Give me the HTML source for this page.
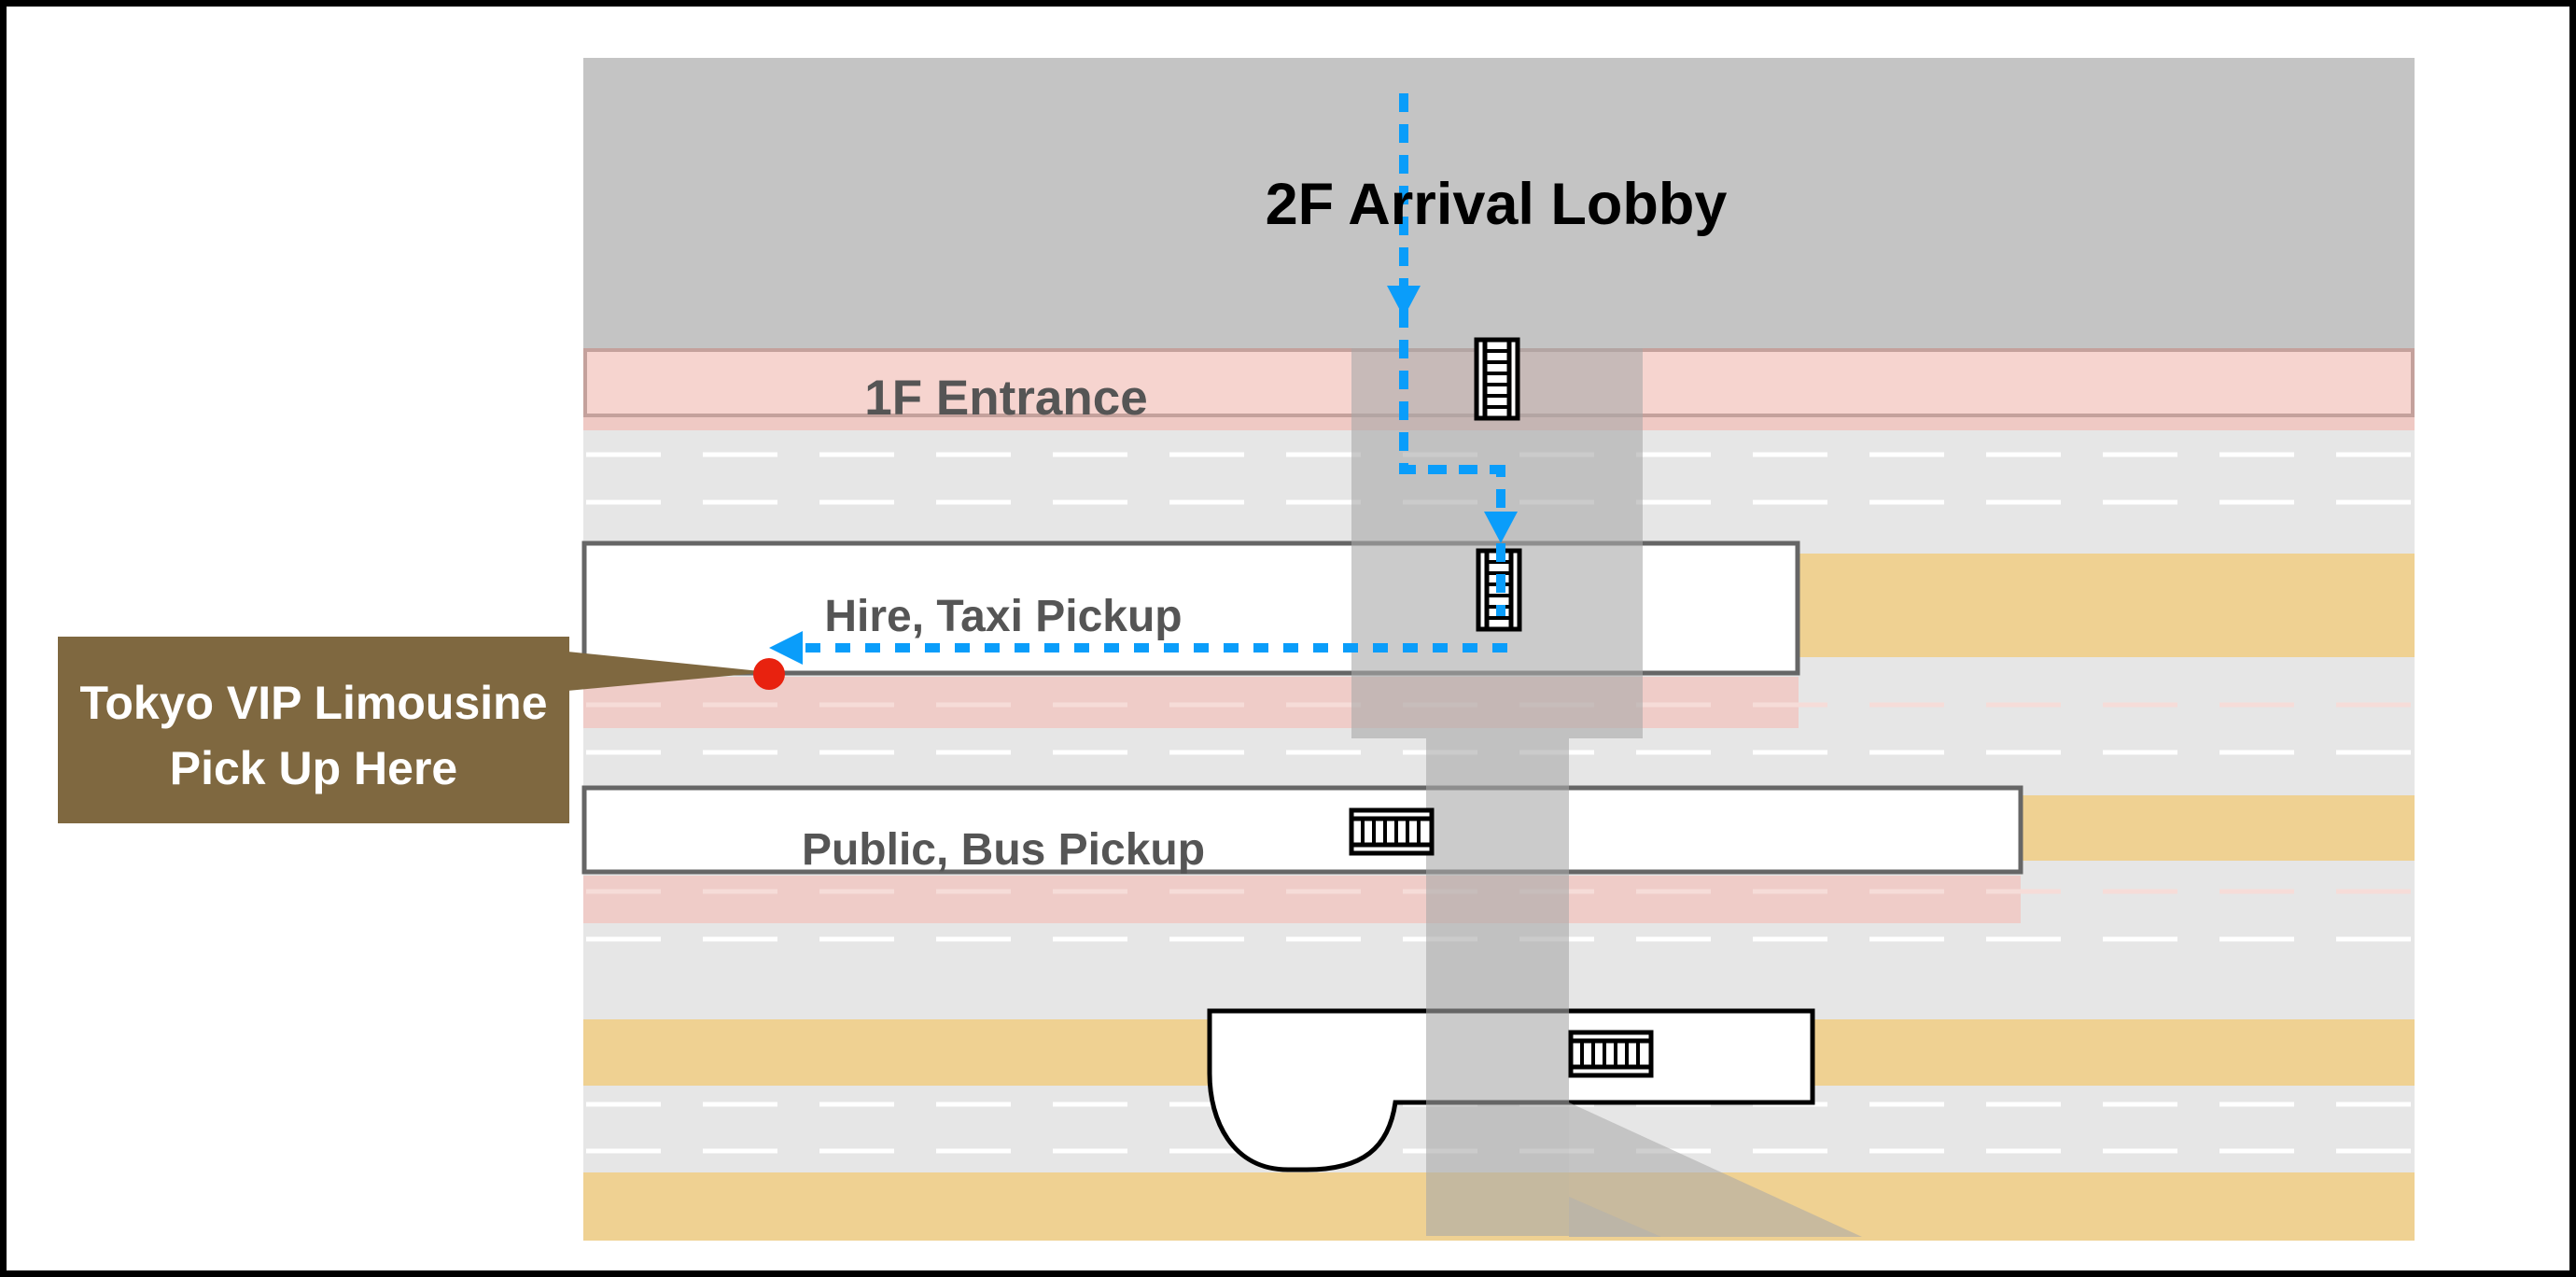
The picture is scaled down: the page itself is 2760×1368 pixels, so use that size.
<!DOCTYPE html>
<html><head><meta charset="utf-8"><style>
html,body{margin:0;padding:0;background:#fff}
svg{display:block}
text{font-family:"Liberation Sans",sans-serif}
</style></head><body>
<svg width="2760" height="1368" viewBox="0 0 2760 1368" xmlns="http://www.w3.org/2000/svg">
<defs>
<g id="stairV"><rect x="0" y="0" width="44" height="84" fill="#fff" stroke="#000" stroke-width="5"/><line x1="9" y1="0" x2="9" y2="84" stroke="#000" stroke-width="5"/><line x1="35" y1="0" x2="35" y2="84" stroke="#000" stroke-width="5"/>
<g stroke="#000" stroke-width="4"><line x1="9" y1="12" x2="35" y2="12"/><line x1="9" y1="24" x2="35" y2="24"/><line x1="9" y1="36" x2="35" y2="36"/><line x1="9" y1="48" x2="35" y2="48"/><line x1="9" y1="60" x2="35" y2="60"/><line x1="9" y1="72" x2="35" y2="72"/></g></g>
<g id="stairH"><rect x="0" y="0" width="86" height="46" fill="#fff" stroke="#000" stroke-width="5"/><line x1="0" y1="9" x2="86" y2="9" stroke="#000" stroke-width="5"/><line x1="0" y1="37" x2="86" y2="37" stroke="#000" stroke-width="5"/>
<g stroke="#000" stroke-width="4"><line x1="12" y1="9" x2="12" y2="37"/><line x1="24" y1="9" x2="24" y2="37"/><line x1="36" y1="9" x2="36" y2="37"/><line x1="48" y1="9" x2="48" y2="37"/><line x1="60" y1="9" x2="60" y2="37"/><line x1="72" y1="9" x2="72" y2="37"/></g></g>
</defs>
<rect x="0" y="0" width="2760" height="1368" fill="#fff"/>
<rect x="625" y="373" width="1962" height="956" fill="#e6e6e6"/>
<rect x="625" y="62" width="1962" height="311" fill="#c4c4c4"/>
<rect x="625" y="373" width="1962" height="88" fill="#efc9c4"/>
<rect x="627" y="375" width="1958" height="70" fill="#f6d4cf" stroke="#c4a19c" stroke-width="4"/>
<rect x="1927" y="593" width="660" height="111" fill="#efd192"/>
<rect x="2165" y="852" width="422" height="70" fill="#efd192"/>
<rect x="625" y="1092" width="1962" height="71" fill="#efd192"/>
<rect x="625" y="1256" width="1962" height="73" fill="#efd192"/>
<rect x="625" y="725" width="1302" height="55" fill="#efccc8"/>
<rect x="625" y="938" width="1540" height="51" fill="#efccc8"/>
<g stroke="#fff" stroke-width="5" stroke-dasharray="80 45">
<line x1="628" y1="487" x2="2587" y2="487"/><line x1="628" y1="538" x2="2587" y2="538"/>
<line x1="628" y1="755" x2="2587" y2="755" stroke="#f6dcd8"/><line x1="628" y1="806" x2="2587" y2="806"/>
<line x1="628" y1="955" x2="2587" y2="955" stroke="#f6dcd8"/><line x1="628" y1="1006" x2="2587" y2="1006"/>
<line x1="628" y1="1183" x2="2587" y2="1183"/><line x1="628" y1="1233" x2="2587" y2="1233"/>
</g>
<rect x="626" y="582" width="1300" height="139" fill="#fff" stroke="#666" stroke-width="5"/>
<rect x="626" y="844" width="1539" height="90" fill="#fff" stroke="#666" stroke-width="5"/>
<path d="M1296 1083 H1942 V1181 H1495 C1488 1230 1460 1253 1400 1253 H1380 C1320 1253 1296 1200 1296 1150 Z" fill="#fff" stroke="#000" stroke-width="5"/>
<rect x="1448" y="373" width="312" height="418" fill="#a8a8a8" fill-opacity="0.6"/>
<rect x="1528" y="791" width="153" height="533" fill="#a8a8a8" fill-opacity="0.6"/>
<polygon points="1681,1181 1995,1325 1681,1325" fill="#a8a8a8" fill-opacity="0.55"/>
<polygon points="1681,1282 1780,1325 1681,1325" fill="#b0b0b0" fill-opacity="0.5"/>
<use href="#stairV" x="1582" y="364"/>
<use href="#stairV" x="1584" y="590"/>
<use href="#stairH" x="1448" y="868"/>
<use href="#stairH" x="1683" y="1106"/>
<g stroke="#0a9dfa" stroke-width="10" fill="none" stroke-dasharray="20 13">
<polyline points="1504,100 1504,503 1608,503 1608,560"/>
<line x1="1608" y1="582" x2="1608" y2="660"/>
</g>
<line x1="1615" y1="694" x2="860" y2="694" stroke="#0a9dfa" stroke-width="10" stroke-dasharray="16 16"/>
<polygon points="1486,306 1522,306 1504,340" fill="#0a9dfa"/>
<polygon points="1590,548 1626,548 1608,582" fill="#0a9dfa"/>
<polygon points="824,694 860,676 860,712" fill="#0a9dfa"/>
<text x="1603" y="240" text-anchor="middle" font-size="63" font-weight="bold" fill="#000">2F Arrival Lobby</text>
<text x="1078" y="444" text-anchor="middle" font-size="53" font-weight="bold" fill="#555">1F Entrance</text>
<text x="1075" y="676" text-anchor="middle" font-size="48" font-weight="bold" fill="#555">Hire, Taxi Pickup</text>
<text x="1075" y="926" text-anchor="middle" font-size="48" font-weight="bold" fill="#555">Public, Bus Pickup</text>
<polygon points="608,698 824,720 608,740" fill="#7f6840"/>
<rect x="62" y="682" width="548" height="200" fill="#7f6840"/>
<text x="336" y="770" text-anchor="middle" font-size="50" font-weight="bold" fill="#fff">Tokyo VIP Limousine</text>
<text x="336" y="840" text-anchor="middle" font-size="50" font-weight="bold" fill="#fff">Pick Up Here</text>
<circle cx="824" cy="722" r="17" fill="#e8220f"/>
<rect x="3.5" y="3.5" width="2753" height="1361" fill="none" stroke="#000" stroke-width="7"/>
</svg>
</body></html>
